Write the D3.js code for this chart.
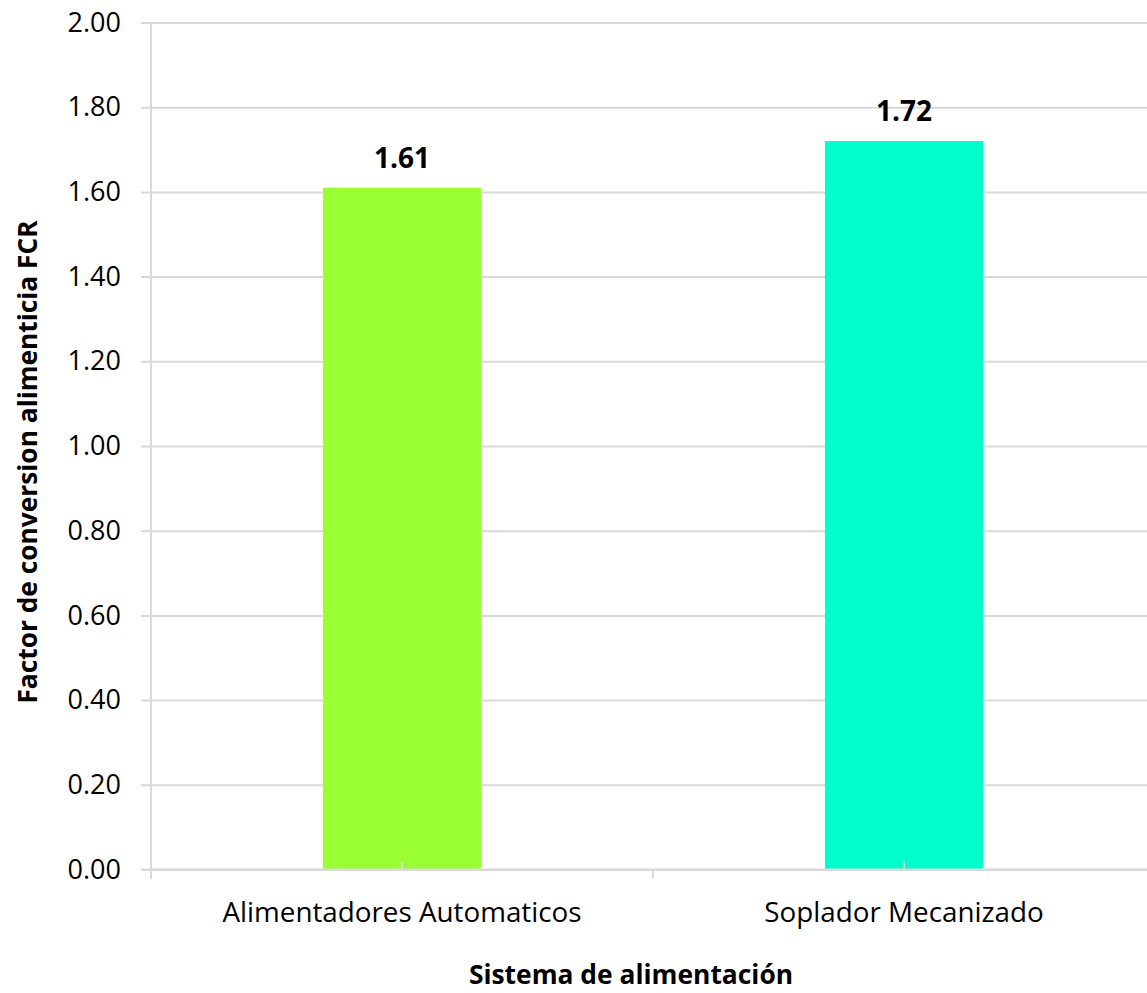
<!DOCTYPE html>
<html>
<head>
<meta charset="utf-8">
<script src="https://cdn.jsdelivr.net/npm/d3@7"></script>
<style>
  html, body { margin: 0; padding: 0; background: #ffffff; }
  svg { display: block; }
  text { font-family: "Open Sans", Lato, sans-serif; fill: #000; }
</style>
</head>
<body>
<svg id="chart" width="1147" height="993"></svg>
<script>
// Feeding-system comparison: feed conversion ratio (FCR)
const categories = ["Alimentadores Automaticos", "Soplador Mecanizado"];
const fcrValues = [1.61, 1.72];
const barColors = ["#99ff33", "#00ffcc"];
const yTicks = [0, 0.2, 0.4, 0.6, 0.8, 1.0, 1.2, 1.4, 1.6, 1.8, 2.0];

const svg = d3.select("#chart");
const plot = { left: 151, right: 1155, top: 22.5, bottom: 869.5 };
const gridColor = "#d9d9d9";
const font = "'Open Sans', Lato, sans-serif";

const x = d3.scaleBand().domain(categories).range([plot.left, plot.right]).padding(0);
const y = d3.scaleLinear().domain([0, 2]).range([plot.bottom, plot.top]);
const barWidth = x.bandwidth() * 0.315;

// horizontal gridlines + y tick labels
const yAxis = d3.axisLeft(y)
  .tickValues(yTicks)
  .tickFormat(d3.format(".2f"))
  .tickSize(-(plot.right - plot.left) - 10)
  .tickPadding(20);

const gy = svg.append("g")
  .attr("transform", `translate(${plot.left - 10},0)`)
  .call(yAxis);
gy.select(".domain").remove();
gy.selectAll(".tick line").attr("stroke", gridColor).attr("stroke-width", 2);
gy.selectAll(".tick text")
  .attr("font-size", 27)
  .style("font-family", font)
  .attr("fill", "#000");

// bars
svg.append("g").selectAll("rect")
  .data(categories)
  .join("rect")
  .attr("x", (d) => x(d) + (x.bandwidth() - barWidth) / 2)
  .attr("width", barWidth)
  .attr("y", (d, i) => y(fcrValues[i]))
  .attr("height", (d, i) => y(0) - y(fcrValues[i]))
  .attr("fill", (d, i) => barColors[i]);

// vertical axis line
svg.append("line")
  .attr("x1", plot.left).attr("x2", plot.left)
  .attr("y1", plot.top).attr("y2", plot.bottom + 9)
  .attr("stroke", gridColor).attr("stroke-width", 2);

// category axis: boundary ticks outward, centre ticks inward
const xAxis = d3.axisBottom(x).tickSize(0).tickPadding(33);
const gx = svg.append("g")
  .attr("transform", `translate(0,${plot.bottom})`)
  .call(xAxis);
gx.select(".domain").remove();
gx.selectAll(".tick line").remove();
gx.selectAll(".tick text")
  .attr("font-size", 27.8)
  .style("font-family", font)
  .attr("fill", "#000");

const boundaries = categories.map((d) => x(d)).concat([plot.right]);
svg.append("g").selectAll("line")
  .data(boundaries)
  .join("line")
  .attr("x1", (d) => d).attr("x2", (d) => d)
  .attr("y1", plot.bottom).attr("y2", plot.bottom + 9)
  .attr("stroke", gridColor).attr("stroke-width", 2);

svg.append("g").selectAll("line")
  .data(categories)
  .join("line")
  .attr("x1", (d) => x(d) + x.bandwidth() / 2)
  .attr("x2", (d) => x(d) + x.bandwidth() / 2)
  .attr("y1", plot.bottom).attr("y2", plot.bottom - 8)
  .attr("stroke", gridColor).attr("stroke-width", 2);

svg.append("line")
  .attr("x1", plot.left - 10).attr("x2", plot.right)
  .attr("y1", plot.bottom).attr("y2", plot.bottom)
  .attr("stroke", gridColor).attr("stroke-width", 2);

// value labels
svg.append("g").selectAll("text")
  .data(categories)
  .join("text")
  .attr("x", (d) => x(d) + x.bandwidth() / 2)
  .attr("y", (d, i) => y(fcrValues[i]) - 20)
  .attr("text-anchor", "middle")
  .attr("font-size", 28)
  .attr("font-weight", "bold")
  .text((d, i) => d3.format(".2f")(fcrValues[i]));

// axis titles
svg.append("text")
  .attr("x", 631).attr("y", 984)
  .attr("text-anchor", "middle")
  .attr("font-size", 26.4)
  .attr("font-weight", "bold")
  .text("Sistema de alimentación");

svg.append("text")
  .attr("transform", "translate(37,462) rotate(-90)")
  .attr("text-anchor", "middle")
  .attr("font-size", 26.3)
  .attr("font-weight", "bold")
  .text("Factor de conversion alimenticia FCR");
</script>
</body>
</html>
